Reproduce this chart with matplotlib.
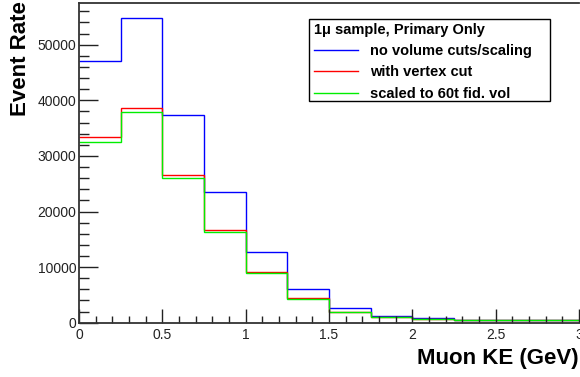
import matplotlib
matplotlib.use('Agg')
import matplotlib.pyplot as plt
from matplotlib.patches import Rectangle
from matplotlib.ticker import MultipleLocator

# Muon KE bins (GeV) and event rates
bin_edges = [0, 0.25, 0.5, 0.75, 1.0, 1.25, 1.5, 1.75, 2.0, 2.25, 2.5, 2.75, 3.0]
no_cuts = [47000, 54750, 37400, 23450, 12770, 6060, 2700, 1260, 900, 540, 520, 430]
vertex_cut = [33350, 38700, 26560, 16670, 9120, 4380, 1980, 1080, 720, 540, 490, 470]
scaled_60t = [32550, 37850, 25970, 16370, 8880, 4200, 1870, 1020, 670, 520, 480, 420]

labels = ['no volume cuts/scaling', 'with vertex cut', 'scaled to 60t fid. vol']
colors = ['#0000ff', '#ff0000', '#00ee00']

plt.rcParams['font.family'] = ['Liberation Sans', 'DejaVu Sans']

W, H = 580, 377
fig = plt.figure(figsize=(5.8, 3.77), dpi=100)
ax = fig.add_axes([79/W, (H-322.7)/H, 500/W, 319.7/H])

for vals, lab, col in zip([no_cuts, vertex_cut, scaled_60t], labels, colors):
    ax.stairs(vals, bin_edges, color=col, linewidth=1.0, label=lab, baseline=None)

ax.set_xlim(0, 3)
ax.set_ylim(0, 57500)

ax.xaxis.set_major_locator(MultipleLocator(0.5))
ax.xaxis.set_minor_locator(MultipleLocator(0.1))
ax.yaxis.set_major_locator(MultipleLocator(10000))
ax.yaxis.set_minor_locator(MultipleLocator(2000))
ax.set_xticks([0, 0.5, 1, 1.5, 2, 2.5, 3])
ax.set_xticklabels(['0', '0.5', '1', '1.5', '2', '2.5', '3'])

ax.tick_params(axis='both', which='both', direction='in', labelsize=10,
               colors='#222222', width=1)
ax.tick_params(axis='y', which='major', length=14, pad=2)
ax.tick_params(axis='y', which='minor', length=7)
ax.tick_params(axis='x', which='major', length=10, pad=4)
ax.tick_params(axis='x', which='minor', length=5)

for side in ['left', 'bottom', 'top']:
    ax.spines[side].set_color('#333333')
    ax.spines[side].set_linewidth(1.3)
ax.spines['right'].set_visible(False)

fig.text(0.018, 0.998, 'Event Rate', rotation=90, ha='left', va='top',
         fontsize=16, fontweight='bold')
fig.text(0.998, 0.02, 'Muon KE (GeV)', ha='right', va='bottom',
         fontsize=16, fontweight='bold')

# ROOT-style legend box (frame drawn separately for its padding)
box = Rectangle((309/W, 1 - 101/H), 241/W, 82/H, transform=fig.transFigure,
                facecolor='white', edgecolor='black', linewidth=1.0,
                clip_on=False, zorder=4)
ax.add_patch(box)
leg = ax.legend(loc='upper left', bbox_to_anchor=(311/W, 1 - 20/H),
                bbox_transform=fig.transFigure, frameon=False,
                title='1μ sample, Primary Only',
                title_fontproperties={'weight': 'bold', 'size': 10.5},
                prop={'weight': 'bold', 'size': 10.5}, handlelength=3.0,
                handletextpad=0.85, borderpad=0.2, labelspacing=0.5,
                borderaxespad=0, alignment='left')
leg.set_zorder(6)

fig.savefig('out.png', dpi=100)
